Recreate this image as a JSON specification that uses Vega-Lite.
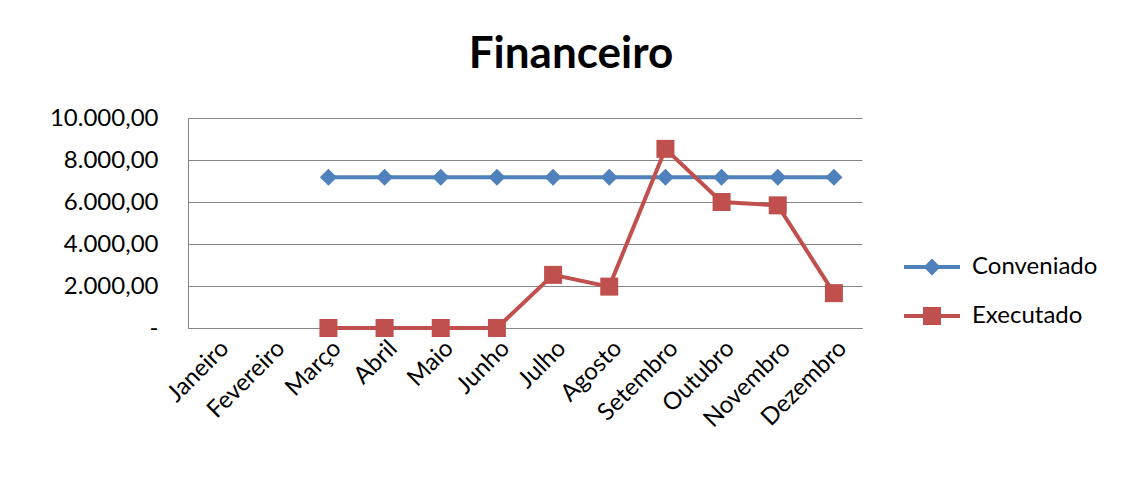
{
  "$schema": "https://vega.github.io/schema/vega-lite/v6.json",
  "width": 674,
  "height": 210,
  "autosize": {"type": "none"},
  "padding": {"left": 188, "top": 118, "right": 273, "bottom": 164},
  "background": "white",
  "title": {
    "text": "Financeiro",
    "font": "Lato",
    "fontSize": 44,
    "fontWeight": "bold",
    "color": "#000000",
    "anchor": "middle",
    "frame": "group",
    "dx": 46,
    "baseline": "alphabetic",
    "offset": -6
  },
  "config": {
    "font": "Lato",
    "view": {"stroke": null},
    "axis": {
      "labelFont": "Lato",
      "labelFontSize": 24,
      "labelColor": "#000000",
      "ticks": false,
      "domainColor": "#868686",
      "gridColor": "#868686",
      "title": null
    }
  },
  "resolve": {"legend": {"color": "independent", "shape": "independent"}},
  "data": {
    "values": [
      {"month": "Março", "series": "Conveniado", "value": 7180},
      {"month": "Abril", "series": "Conveniado", "value": 7180},
      {"month": "Maio", "series": "Conveniado", "value": 7180},
      {"month": "Junho", "series": "Conveniado", "value": 7180},
      {"month": "Julho", "series": "Conveniado", "value": 7180},
      {"month": "Agosto", "series": "Conveniado", "value": 7180},
      {"month": "Setembro", "series": "Conveniado", "value": 7180},
      {"month": "Outubro", "series": "Conveniado", "value": 7180},
      {"month": "Novembro", "series": "Conveniado", "value": 7180},
      {"month": "Dezembro", "series": "Conveniado", "value": 7180},
      {"month": "Março", "series": "Executado", "value": 0},
      {"month": "Abril", "series": "Executado", "value": 0},
      {"month": "Maio", "series": "Executado", "value": 0},
      {"month": "Junho", "series": "Executado", "value": 0},
      {"month": "Julho", "series": "Executado", "value": 2530},
      {"month": "Agosto", "series": "Executado", "value": 1970},
      {"month": "Setembro", "series": "Executado", "value": 8530},
      {"month": "Outubro", "series": "Executado", "value": 6000},
      {"month": "Novembro", "series": "Executado", "value": 5840},
      {"month": "Dezembro", "series": "Executado", "value": 1660}
    ]
  },
  "encoding": {
    "x": {
      "field": "month",
      "type": "nominal",
      "sort": null,
      "scale": {
        "domain": ["Janeiro", "Fevereiro", "Março", "Abril", "Maio", "Junho", "Julho", "Agosto", "Setembro", "Outubro", "Novembro", "Dezembro"],
        "padding": 0.5
      },
      "axis": {"labelAngle": -45, "grid": false, "domain": true, "labelPadding": 8, "title": null}
    },
    "y": {
      "field": "value",
      "type": "quantitative",
      "scale": {"domain": [0, 10000], "nice": false},
      "axis": {
        "values": [0, 2000, 4000, 6000, 8000, 10000],
        "grid": true,
        "domain": true,
        "labelPadding": 30,
        "title": null,
        "labelExpr": "datum.value == 0 ? '-' : replace(replace(replace(format(datum.value, ',.2f'), ',', '#'), '.', ','), '#', '.')"
      }
    }
  },
  "layer": [
    {
      "mark": {"type": "line", "strokeWidth": 4},
      "encoding": {
        "color": {
          "field": "series",
          "type": "nominal",
          "scale": {"domain": ["Conveniado", "Executado"], "range": ["#4F81BD", "#C0504D"]},
          "legend": null
        }
      }
    },
    {
      "transform": [{"filter": "datum.series == 'Conveniado'"}],
      "mark": {"type": "point", "shape": "diamond", "filled": true, "opacity": 1, "size": 290, "color": "#4F81BD"}
    },
    {
      "transform": [{"filter": "datum.series == 'Executado'"}],
      "mark": {"type": "point", "shape": "square", "filled": true, "opacity": 1, "size": 324, "color": "#C0504D"}
    },
    {
      "mark": {"type": "point", "filled": true, "opacity": 0, "size": 10},
      "encoding": {
        "color": {
          "field": "series",
          "type": "nominal",
          "scale": {"domain": ["Conveniado", "Executado"], "range": ["#4F81BD", "#C0504D"]},
          "legend": {
            "title": null,
            "orient": "none",
            "legendX": 732,
            "legendY": 137,
            "symbolSize": 400,
            "symbolOpacity": 1,
            "symbolStrokeWidth": 0,
            "labelFont": "Lato",
            "labelFontSize": 24,
            "labelColor": "#000000",
            "labelOffset": 28,
            "rowPadding": 25,
            "padding": 0
          }
        },
        "shape": {
          "field": "series",
          "type": "nominal",
          "scale": {
            "domain": ["Conveniado", "Executado"],
            "range": [
              "M-2.8,-0.2H2.8V0.2H-2.8Z M0,-0.85L0.85,0L0,0.85L-0.85,0Z",
              "M-2.8,-0.2H2.8V0.2H-2.8Z M-0.9,-0.9H0.9V0.9H-0.9Z"
            ]
          },
          "legend": {
            "title": null,
            "orient": "none",
            "legendX": 732,
            "legendY": 137,
            "symbolSize": 400,
            "symbolOpacity": 1,
            "symbolStrokeWidth": 0,
            "labelFont": "Lato",
            "labelFontSize": 24,
            "labelColor": "#000000",
            "labelOffset": 28,
            "rowPadding": 25,
            "padding": 0
          }
        }
      }
    }
  ]
}
